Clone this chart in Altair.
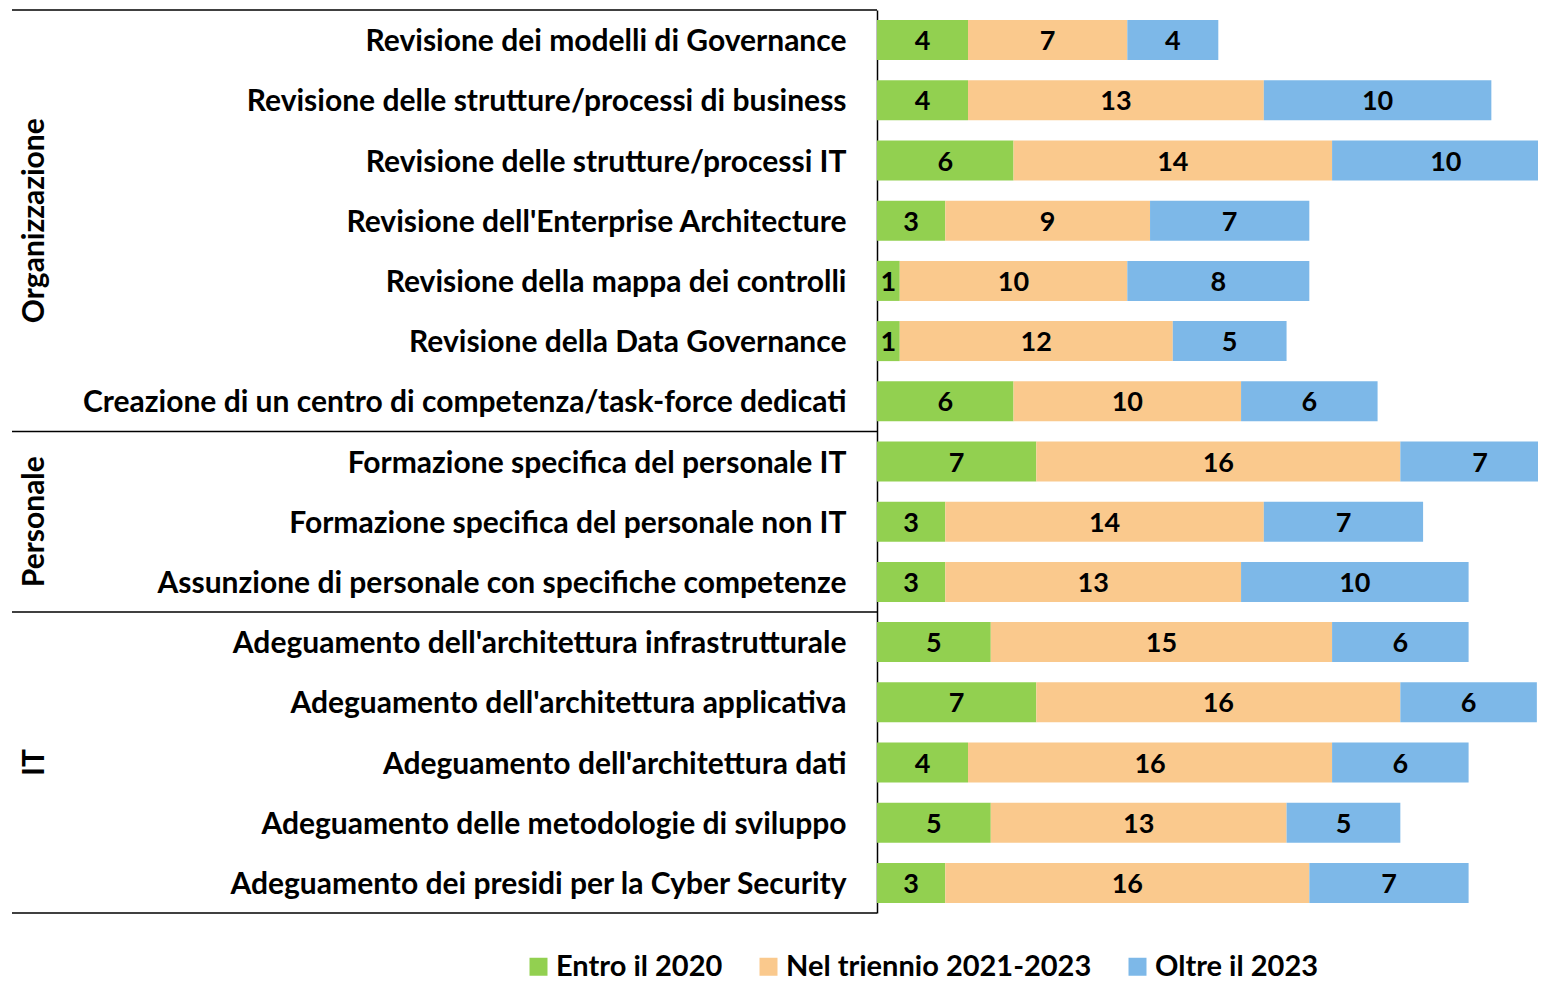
import altair as alt
import pandas as pd

# ---- data ----
group_names = ["Organizzazione", "Personale", "IT"]
group_sizes = [7, 3, 5]
categories = [
    "Revisione dei modelli di Governance",
    "Revisione delle strutture/processi di business",
    "Revisione delle strutture/processi IT",
    "Revisione dell'Enterprise Architecture",
    "Revisione della mappa dei controlli",
    "Revisione della Data Governance",
    "Creazione di un centro di competenza/task-force dedicati",
    "Formazione specifica del personale IT",
    "Formazione specifica del personale non IT",
    "Assunzione di personale con specifiche competenze",
    "Adeguamento dell'architettura infrastrutturale",
    "Adeguamento dell'architettura applicativa",
    "Adeguamento dell'architettura dati",
    "Adeguamento delle metodologie di sviluppo",
    "Adeguamento dei presidi per la Cyber Security",
]
entro_2020 = [4, 4, 6, 3, 1, 1, 6, 7, 3, 3, 5, 7, 4, 5, 3]
triennio = [7, 13, 14, 9, 10, 12, 10, 16, 14, 13, 15, 16, 16, 13, 16]
oltre = [4, 10, 10, 7, 8, 5, 6, 7, 7, 10, 6, 6, 6, 5, 7]
series = ["Entro il 2020", "Nel triennio 2021-2023", "Oltre il 2023"]
colors = ["#92D050", "#FAC98D", "#7DB8E8"]

FONT = "Lato"
FS = 30

rows = []
for i, cat in enumerate(categories):
    start = 0
    for k, (s, vals) in enumerate(zip(series, [entro_2020, triennio, oltre])):
        v = vals[i]
        rows.append({"cat": cat, "series": s, "order": k, "value": v,
                     "start": start, "end": start + v, "mid": start + v / 2})
        start += v
df = pd.DataFrame(rows)

bounds = [0]
for g in group_sizes:
    bounds.append(bounds[-1] + g)
n = len(categories)
rules_df = pd.DataFrame({"b": bounds})
glabel_df = pd.DataFrame({
    "g": group_names,
    "c": [(bounds[i] + bounds[i + 1]) / 2 for i in range(len(group_names))],
})

yband = alt.Scale(paddingInner=0.335, paddingOuter=0.1675)
xscale = alt.Scale(domain=[0, 29.05], nice=False, zero=True)
yaxis = alt.Axis(ticks=False, labelPadding=31, labelLimit=0, grid=False, labelOffset=2,
                 labelFont=FONT, labelFontSize=FS, labelFontWeight="bold",
                 labelColor="#000", domainColor="#000", domainWidth=1.5)

bars = alt.Chart(df).mark_bar(clip=True).encode(
    y=alt.Y("cat:N", sort=categories, scale=yband, title=None, axis=yaxis),
    x=alt.X("start:Q", scale=xscale, axis=None),
    x2="end:Q",
    color=alt.Color("series:N", scale=alt.Scale(domain=series, range=colors),
                    legend=alt.Legend(title=None, orient="none", legendX=-353, legendY=942,
                                      direction="horizontal", symbolType="square",
                                      symbolSize=324, symbolStrokeWidth=0,
                                      labelFont=FONT, labelFontSize=29, labelFontWeight="bold",
                                      labelColor="#000", labelLimit=600, labelOffset=3,
                                      columnPadding=31, padding=0)),
    order=alt.Order("order:Q"),
)

texts = alt.Chart(df).mark_text(font=FONT, fontSize=27, fontWeight="bold", color="#000",
                                 baseline="middle", align="center", dy=2).encode(
    y=alt.Y("cat:N", sort=categories, scale=yband, title=None, axis=yaxis),
    x=alt.X("mid:Q", scale=xscale, axis=None),
    text="value:Q",
)

qscale = alt.Scale(domain=[0, n], reverse=True, nice=False, zero=False)
rules = alt.Chart(rules_df).mark_rule(color="#000", strokeWidth=1.5).encode(
    y=alt.Y("b:Q", scale=qscale, axis=None),
    x=alt.value(-865),
    x2=alt.value(0),
)
glabels = alt.Chart(glabel_df).mark_text(font=FONT, fontSize=30, fontWeight="bold", color="#000",
                                         angle=270, align="center", baseline="middle").encode(
    y=alt.Y("c:Q", scale=qscale, axis=None),
    x=alt.value(-842),
    text="g:N",
)

chart = alt.layer(
    alt.layer(bars, texts),
    alt.layer(rules, glabels),
).resolve_scale(y="independent").properties(
    width=661, height=903,
    autosize=alt.AutoSizeParams(type="none"),
    padding={"left": 869, "top": 2, "right": 0, "bottom": 74},
    background="white",
).configure_view(stroke=None)

chart.save("out.html", embed_options={"renderer": "svg", "actions": False})
